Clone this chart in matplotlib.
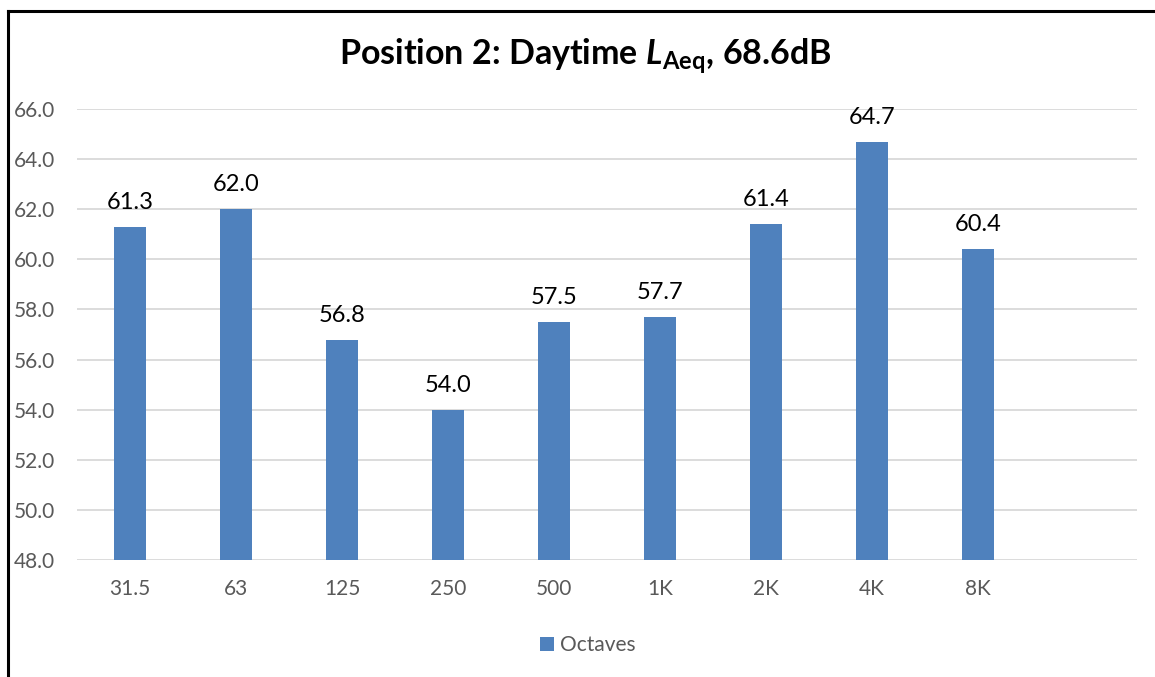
import numpy as np
import matplotlib.pyplot as plt
from matplotlib.lines import Line2D

plt.rcParams['font.family'] = ['Lato', 'DejaVu Sans']
plt.rcParams['mathtext.fontset'] = 'custom'
plt.rcParams['mathtext.rm'] = 'Lato'
plt.rcParams['mathtext.bf'] = 'Lato:bold'
plt.rcParams['mathtext.bfit'] = 'Lato:italic:bold'

bands = ['31.5', '63', '125', '250', '500', '1K', '2K', '4K', '8K', '']
levels = [61.3, 62.0, 56.8, 54.0, 57.5, 57.7, 61.4, 64.7, 60.4]
yticks = [48, 50, 52, 54, 56, 58, 60, 62, 64, 66]

W, H = 1155, 677
fig = plt.figure(figsize=(W / 100, H / 100), dpi=100)
ax = fig.add_axes([77 / W, 1 - 560 / H, (1137 - 77) / W, (560 - 109) / H])

x = np.arange(len(levels))
bars = ax.bar(x, np.array(levels) - 48, bottom=48, width=0.31, color='#4F81BD',
              label='Octaves', zorder=3)
for xi, v in zip(x, levels):
    ax.annotate(f'{v:.1f}', (xi, v), xytext=(0, 10), textcoords='offset points',
                ha='center', va='bottom', fontsize=17, color='black')

ax.set_xlim(-0.5, len(bands) - 0.5)
ax.set_ylim(48, 66)
ax.set_xticks(np.arange(len(bands)))
ax.set_xticklabels(bands)
ax.set_yticks(yticks)
ax.set_yticklabels([f'{t:.1f}' for t in yticks])
ax.tick_params(axis='both', length=0, labelsize=15, colors='#595959')
ax.tick_params(axis='y', pad=16)
ax.tick_params(axis='x', pad=14)
ax.grid(axis='y', color='#D9D9D9', lw=1.3, zorder=0)
for s in ax.spines.values():
    s.set_visible(False)

fig.text(585 / W, 1 - 56 / H,
         r'Position 2: Daytime $\mathbfit{L}_{\mathbf{Aeq}}$, 68.6dB',
         ha='center', va='center', fontsize=24.5, fontweight='bold')

ax.legend(loc='center', bbox_to_anchor=(588 / W, 1 - 645 / H),
          bbox_transform=fig.transFigure, frameon=False, fontsize=15,
          handlelength=0.65, handleheight=0.65, handletextpad=0.3,
          labelcolor='#595959')

# outer chart border (left and top edges visible)
fig.add_artist(Line2D([8 / W, 8 / W], [0, 1 - 11 / H], color='black', lw=2.2,
                      transform=fig.transFigure))
fig.add_artist(Line2D([8 / W, 1], [1 - 11 / H, 1 - 11 / H], color='black', lw=2.2,
                      transform=fig.transFigure))

fig.savefig('out.png', dpi=100)
